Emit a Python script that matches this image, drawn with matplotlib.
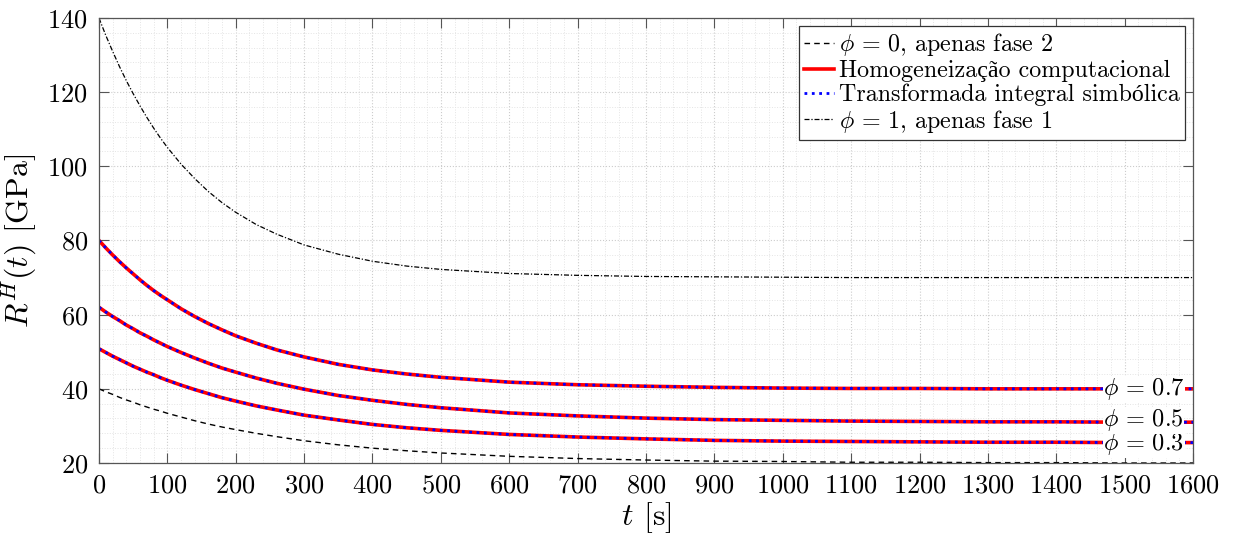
import matplotlib
matplotlib.use("Agg")
import matplotlib.pyplot as plt
from matplotlib.ticker import MultipleLocator

# cmr10 nao tem acentos -> Liberation Serif como reserva
plt.rcParams['font.family'] = ['cmr10', 'Liberation Serif']
plt.rcParams['mathtext.fontset'] = 'cm'
plt.rcParams['axes.formatter.use_mathtext'] = True

# tempo [s]
t = [0, 10, 20, 30, 40, 50, 60, 70, 80, 90, 100, 120, 140, 160, 180, 200, 230, 260,
     300, 350, 400, 450, 500, 600, 700, 800, 900, 1000, 1100, 1200, 1300, 1400, 1500, 1600]

# R^H(t) [GPa]
r_phi0 = [40.0, 39.2, 38.5, 37.7, 37.0, 36.4, 35.7, 35.1, 34.5, 34.0, 33.4, 32.4, 31.4, 30.5,
          29.7, 29.0, 28.0, 27.1, 26.0, 24.9, 24.0, 23.3, 22.7, 21.8, 21.2, 20.8, 20.5, 20.4,
          20.2, 20.2, 20.1, 20.1, 20.0, 20.0]
r_phi03 = [50.8, 49.8, 48.8, 47.9, 47.0, 46.1, 45.3, 44.5, 43.8, 43.0, 42.3, 41.0, 39.8, 38.7,
           37.6, 36.7, 35.4, 34.3, 32.9, 31.6, 30.4, 29.5, 28.8, 27.7, 27.0, 26.5, 26.1, 25.9,
           25.8, 25.7, 25.6, 25.6, 25.5, 25.5]
r_phi05 = [62.0, 60.7, 59.5, 58.4, 57.2, 56.2, 55.1, 54.2, 53.2, 52.3, 51.4, 49.8, 48.3, 46.9,
           45.6, 44.5, 42.9, 41.5, 39.9, 38.2, 36.9, 35.8, 34.9, 33.5, 32.7, 32.1, 31.7, 31.5,
           31.3, 31.2, 31.1, 31.1, 31.0, 31.0]
r_phi07 = [80.0, 78.0, 76.1, 74.3, 72.6, 71.0, 69.4, 67.9, 66.5, 65.2, 64.0, 61.6, 59.5, 57.6,
           55.9, 54.3, 52.3, 50.5, 48.6, 46.6, 45.1, 44.0, 43.1, 41.8, 41.1, 40.7, 40.4, 40.2,
           40.1, 40.1, 40.0, 40.0, 40.0, 40.0]
r_phi1 = [140.0, 135.3, 131.0, 126.9, 123.1, 119.6, 116.3, 113.2, 110.3, 107.6, 105.1, 100.6,
          96.7, 93.2, 90.2, 87.6, 84.3, 81.7, 78.8, 76.3, 74.4, 73.1, 72.2, 71.1, 70.6, 70.3,
          70.2, 70.1, 70.0, 70.0, 70.0, 70.0, 70.0, 70.0]

mix_curves = [r_phi03, r_phi05, r_phi07]
mix_labels = [r'$\phi\,=\,0.3$', r'$\phi\,=\,0.5$', r'$\phi\,=\,0.7$']
x_ticks = list(range(0, 1601, 100))
y_ticks = list(range(20, 141, 20))

fig = plt.figure(figsize=(12.34, 5.40), dpi=100)
ax = fig.add_axes([0.0802, 0.1426, 0.8866, 0.8241])

ax.plot(t, r_phi0, '--', color='k', lw=1.0, dashes=(4, 3), label=r'$\phi\,=\,0$, apenas fase 2')
for i, r in enumerate(mix_curves):
    ax.plot(t, r, '-', color='red', lw=2.6,
            label='Homogeneização computacional' if i == 0 else None)
for i, r in enumerate(mix_curves):
    ax.plot(t, r, ':', color='blue', lw=2.0,
            label='Transformada integral simbólica' if i == 0 else None)
ax.plot(t, r_phi1, '-.', color='k', lw=0.9, dashes=(4, 1.5, 1, 1.5),
        label=r'$\phi\,=\,1$, apenas fase 1')

# rotulos a direita, levemente afastados para nao se sobreporem
nudge = [-0.5, 0.5, 0.0]
for r, lab, dy in zip(mix_curves, mix_labels, nudge):
    ax.text(1528, r[-1] + dy, lab, ha='center', va='center', fontsize=17.5,
            bbox=dict(facecolor='white', edgecolor='none', pad=0.2))

ax.set_xlim(0, 1600)
ax.set_ylim(20, 140)
ax.set_xticks(x_ticks)
ax.set_yticks(y_ticks)
ax.xaxis.set_minor_locator(MultipleLocator(20))
ax.yaxis.set_minor_locator(MultipleLocator(4))
ax.tick_params(which='major', direction='in', top=True, right=True, length=7,
               color='#555555', labelsize=19, pad=8)
ax.tick_params(which='minor', length=0, top=True, right=True)
ax.grid(which='major', ls=':', color='#cccccc', lw=0.8)
ax.grid(which='minor', ls=':', color='#e4e4e4', lw=0.7)
ax.set_axisbelow(True)
for s in ax.spines.values():
    s.set_color('#555555')
    s.set_linewidth(0.9)

ax.set_xlabel(r'$t$ [s]', fontsize=23, labelpad=2)
ax.set_ylabel(r'$R^H(t)$ [GPa]', fontsize=23, labelpad=6)

leg = ax.legend(loc='upper right', fontsize=17.3, handlelength=1.25, handletextpad=0.2,
                borderpad=0.2, labelspacing=0.07, borderaxespad=0.35, fancybox=False,
                framealpha=1, edgecolor='#333333')
leg.get_frame().set_linewidth(0.9)

fig.savefig('out.png', dpi=100)
